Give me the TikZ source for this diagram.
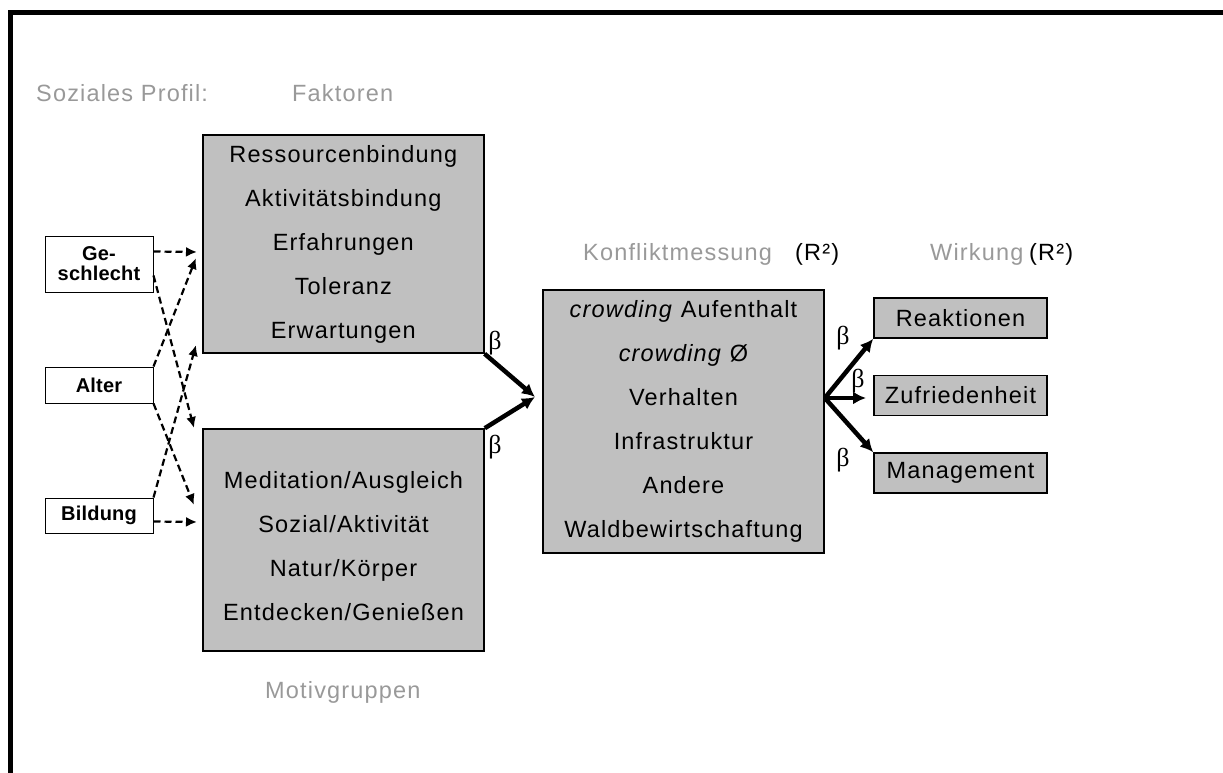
\documentclass[tikz,border=0pt]{standalone}
\usepackage{fontspec}
\setmainfont{Liberation Sans}
\newfontfamily\boxfont[LetterSpace=5]{Liberation Sans}
\newfontfamily\srcfont[LetterSpace=1]{Liberation Sans}
\newfontfamily\betafont{Liberation Serif}
\usetikzlibrary{arrows.meta}
\definecolor{boxgray}{RGB}{192,192,192}
\definecolor{labelgray}{RGB}{153,153,153}
\tikzset{
  bigbox/.style={draw=black, line width=1.6pt, fill=boxgray, minimum width=281pt, align=center, inner sep=0pt,
    font=\boxfont\fontsize{23.5}{44}\selectfont},
  boxtext/.style={align=center, inner sep=0pt, font=\boxfont\fontsize{23.5}{44}\selectfont},
  smallbox/.style={draw=black, line width=1.6pt, fill=boxgray, minimum width=173pt, minimum height=40pt, inner sep=0pt,
    font=\boxfont\fontsize{23.5}{28}\selectfont},
  srcbox/.style={draw=black, line width=1pt, fill=white, minimum width=108pt, align=center, inner sep=0pt,
    font=\srcfont\bfseries\fontsize{20}{20}\selectfont},
  headlabel/.style={anchor=base west, inner sep=0pt, text=labelgray, font=\boxfont\fontsize{23.5}{28}\selectfont},
  rlabel/.style={anchor=base west, inner sep=0pt, text=black, font=\boxfont\fontsize{23.5}{28}\selectfont},
  betalabel/.style={inner sep=0pt, font=\betafont\fontsize{26}{28}\selectfont},
  dasharrow/.style={line width=2.2pt, dash pattern=on 7pt off 4pt, -{Latex[length=11pt,width=10pt]}},
  thickarrow/.style={line width=4.5pt, -{Latex[length=13pt,width=13pt]}},
}
\begin{document}
\begin{tikzpicture}[x=1pt,y=-1pt]
\useasboundingbox (0,0) rectangle (1223,773);
% frame
\draw[line width=5pt, line join=miter] (10.5,773) -- (10.5,13) -- (1223,13);

% headings
\node[headlabel] (hsp) at (36,102) {Soziales Profil:};
\node[headlabel] (hfa) at (292,102) {Faktoren};
\node[headlabel] (hko) at (583,260) {Konfliktmessung};
\node[rlabel] (hr1) at (795,260) {(R²)};
\node[headlabel] (hwi) at (930,260) {Wirkung};
\node[rlabel] (hr2) at (1029,260) {(R²)};
\node[headlabel] (hmo) at (265,698) {Motivgruppen};

% big boxes
\node[bigbox, minimum height=218pt] (b1) at (343.3,244) {Ressourcenbindung\\Aktivitätsbindung\\Erfahrungen\\Toleranz\\Erwartungen};
\node[bigbox, minimum height=222pt] (b2) at (343.5,540) {};
\node[boxtext] (b2t) at ([yshift=-6pt]b2.center) {Meditation/Ausgleich\\Sozial/Aktivität\\Natur/Körper\\Entdecken/Genießen};
\node[bigbox, minimum height=263pt] (b3) at (683.5,421.5) {\textit{crowding} Aufenthalt\\\textit{crowding} Ø\\Verhalten\\Infrastruktur\\Andere\\Waldbewirtschaftung};

% outcome boxes
\node[smallbox] (re) at (960.5,318) {Reaktionen};
\node[smallbox] (zu) at (960.5,395.5) {Zufriedenheit};
\node[smallbox] (ma) at (960.5,473) {Management};

% source boxes
\node[srcbox, minimum height=56pt] (ge) at (99,264) {Ge-\\schlecht};
\node[srcbox, minimum height=36pt] (al) at (99,385) {Alter};
\node[srcbox, minimum height=35pt] (bi) at (99,515.5) {Bildung};

% dashed arrow targets
\coordinate (t1) at (197,252);
\coordinate (t2) at (194,428);
\coordinate (t3) at (196,258);
\coordinate (t4) at (194,505);
\coordinate (t5) at (196,345);
\coordinate (t6) at (197,522);

\draw[dasharrow] ([yshift=-16pt]ge.north east) -- (t1);
\draw[dasharrow] ([yshift=17pt]ge.south east) -- (t2);
\draw[dasharrow] (al.north east) -- (t3);
\draw[dasharrow] (al.south east) -- (t4);
\draw[dasharrow] (bi.north east) -- (t5);
\draw[dasharrow] ([yshift=-24pt]bi.north east) -- (t6);

% thick arrows
\coordinate (c3) at (535,397);
\coordinate (zt) at (866,398);
\draw[thickarrow] (b1.south east) -- (c3);
\draw[thickarrow] (b2.north east) -- (c3);
\draw[thickarrow] ([yshift=23.5pt]b3.east) -- (re.south west);
\draw[thickarrow] ([yshift=23.5pt]b3.east) -- (zt);
\draw[thickarrow] ([yshift=23.5pt]b3.east) -- (ma.north west);

% beta labels
\node[betalabel] (be1) at (495,343) {β};
\node[betalabel] (be2) at (495,447) {β};
\node[betalabel] (be3) at (843,338) {β};
\node[betalabel] (be4) at (858,381) {β};
\node[betalabel] (be5) at (843,460) {β};
\end{tikzpicture}
\end{document}
